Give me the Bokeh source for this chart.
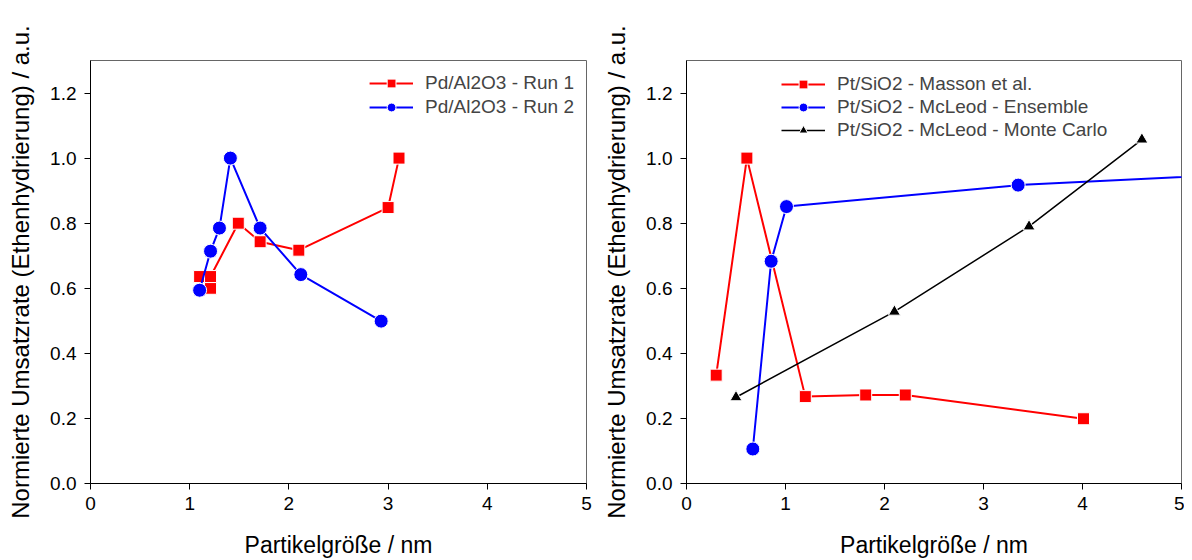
from bokeh.plotting import figure
from bokeh.layouts import row
from bokeh.models import Range1d, FixedTicker, Legend, CustomJSTickFormatter
from bokeh.embed import file_html
from bokeh.resources import INLINE

# ---- data: left panel (Pd/Al2O3)
run1_x = [1.10, 1.21, 1.21, 1.49, 1.71, 2.10, 3.00, 3.11]
run1_y = [0.636, 0.600, 0.636, 0.800, 0.743, 0.717, 0.848, 1.000]
run2_x = [1.10, 1.21, 1.30, 1.41, 1.71, 2.12, 2.93]
run2_y = [0.594, 0.714, 0.785, 1.000, 0.785, 0.642, 0.499]

# ---- data: right panel (Pt/SiO2)
masson_x = [0.30, 0.61, 1.20, 1.81, 2.21, 4.01]
masson_y = [0.333, 1.000, 0.267, 0.272, 0.272, 0.199]
ens_x = [0.67, 0.855, 1.01, 3.35, 8.8]
ens_y = [0.106, 0.683, 0.851, 0.917, 1.000]
mc_x = [0.50, 2.10, 3.46, 4.60]
mc_y = [0.265, 0.528, 0.790, 1.057]

x_ticks = [0, 1, 2, 3, 4, 5]
y_ticks = [0.0, 0.2, 0.4, 0.6, 0.8, 1.0, 1.2]

FONT = "Liberation Sans"
XLABEL = "Partikelgröße / nm"
YLABEL = "Normierte Umsatzrate (Ethenhydrierung) / a.u."


def make_fig(width, border_left, border_right):
    p = figure(width=width, height=560, output_backend="svg", toolbar_location=None,
               x_range=Range1d(0, 5), y_range=Range1d(0, 1.3),
               min_border_left=border_left, min_border_right=border_right,
               min_border_top=60, min_border_bottom=76)
    p.xgrid.visible = False
    p.ygrid.visible = False
    p.outline_line_color = "#666666"
    p.outline_line_width = 1
    p.background_fill_color = "white"
    p.border_fill_color = "white"
    for ax in (p.xaxis[0], p.yaxis[0]):
        ax.axis_line_color = "black"
        ax.major_tick_line_color = "black"
        ax.major_tick_out = 6
        ax.major_tick_in = 0
        ax.minor_tick_out = 0
        ax.minor_tick_in = 0
        ax.major_label_text_font = FONT
        ax.major_label_text_font_size = "19px"
        ax.major_label_text_color = "black"
        ax.axis_label_text_font = FONT
        ax.axis_label_text_font_style = "normal"
        ax.axis_label_text_color = "black"
    p.xaxis.axis_label_text_font_size = "23px"
    p.yaxis.axis_label_text_font_size = "24px"
    p.xaxis.ticker = FixedTicker(ticks=x_ticks)
    p.yaxis.ticker = FixedTicker(ticks=y_ticks)
    p.yaxis.formatter = CustomJSTickFormatter(code="return tick.toFixed(1);")
    p.xaxis.axis_label = XLABEL
    p.yaxis.axis_label = YLABEL
    p.xaxis.major_label_standoff = 7
    p.yaxis.major_label_standoff = 8
    p.xaxis.axis_label_standoff = 19
    p.yaxis.axis_label_standoff = 13
    return p


def series(p, xs, ys, color, marker, size, lw, label):
    r1 = p.line(xs, ys, line_color=color, line_width=lw)
    r2 = p.scatter(xs, ys, marker=marker, size=size, fill_color=color,
                   line_color="white", line_width=1)
    return (label, [r1, r2])


p1 = make_fig(596, 90, 10)
items1 = [
    series(p1, run1_x, run1_y, "#ff0000", "square", 12, 2, "Pd/Al2O3 - Run 1"),
    series(p1, run2_x, run2_y, "#0000ff", "circle", 14, 2, "Pd/Al2O3 - Run 2"),
]
leg1 = Legend(items=items1, location="top_right", border_line_color=None,
              background_fill_alpha=0, label_text_font=FONT, label_text_font_size="19px",
              glyph_width=44, glyph_height=22, label_height=22, spacing=2,
              label_standoff=12, padding=6, margin=12)
p1.add_layout(leg1)

p2 = make_fig(588, 90, 3)
items2 = [
    series(p2, masson_x, masson_y, "#ff0000", "square", 12, 2, "Pt/SiO2 - Masson et al."),
    series(p2, ens_x, ens_y, "#0000ff", "circle", 14, 2, "Pt/SiO2 - McLeod - Ensemble"),
    series(p2, mc_x, mc_y, "black", "triangle", 12, 1.5, "Pt/SiO2 - McLeod - Monte Carlo"),
]
leg2 = Legend(items=items2, location=(95, 342), border_line_color=None,
              background_fill_alpha=0, label_text_font=FONT, label_text_font_size="19px",
              glyph_width=44, glyph_height=22, label_height=22, spacing=1,
              label_standoff=12, padding=6, margin=0)
p2.add_layout(leg2)

layout = row(p1, p2)
open("out.html", "w").write(file_html(layout, INLINE))
